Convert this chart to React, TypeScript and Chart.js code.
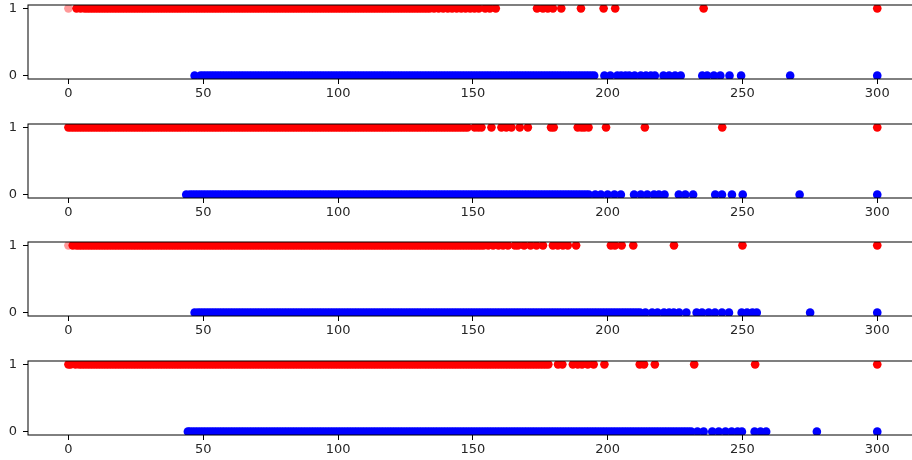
import React, { useEffect, useRef } from "react";
import { Chart, registerables } from "chart.js";

Chart.register(...registerables);

// ---------- data ----------
const xTickValues = [0, 50, 100, 150, 200, 250, 300];
const yTickValues = [0, 1];

// panel 1
const faint1 = [0];
const red1 = [
  3, 4.5,
  6, 7, 8, 9, 10, 11, 12, 13, 14, 15, 16, 17, 18, 19, 20, 21, 22, 23, 24, 25,
  26, 27, 28, 29, 30, 31, 32, 33, 34, 35, 36, 37, 38, 39, 40, 41, 42, 43, 44, 45,
  46, 47, 48, 49, 50, 51, 52, 53, 54, 55, 56, 57, 58, 59, 60, 61, 62, 63, 64, 65,
  66, 67, 68, 69, 70, 71, 72, 73, 74, 75, 76, 77, 78, 79, 80, 81, 82, 83, 84, 85,
  86, 87, 88, 89, 90, 91, 92, 93, 94, 95, 96, 97, 98, 99, 100, 101, 102, 103, 104, 105,
  106, 107, 108, 109, 110, 111, 112, 113, 114, 115, 116, 117, 118, 119, 120, 121, 122, 123, 124, 125,
  126, 127, 128, 129, 130, 131, 132, 133, 134,
  135.6, 137.3, 139, 140.7, 142.3, 144, 145.7, 147.3, 149, 150.6, 152.2, 154.6, 156.3, 158.5,
  173.8, 176, 177.8, 179.7, 182.8, 190.1, 198.5, 202.8, 235.6, 300,
];
const blue1 = [
  46.8,
  49, 50, 51, 52, 53, 54, 55, 56, 57, 58, 59, 60, 61, 62, 63, 64, 65,
  66, 67, 68, 69, 70, 71, 72, 73, 74, 75, 76, 77, 78, 79, 80, 81, 82, 83, 84, 85,
  86, 87, 88, 89, 90, 91, 92, 93, 94, 95, 96, 97, 98, 99, 100, 101, 102, 103, 104, 105,
  106, 107, 108, 109, 110, 111, 112, 113, 114, 115, 116, 117, 118, 119, 120, 121, 122, 123, 124, 125,
  126, 127, 128, 129, 130, 131, 132, 133, 134, 135, 136, 137, 138, 139, 140, 141, 142, 143, 144, 145,
  146, 147, 148, 149, 150, 151, 152, 153, 154, 155, 156, 157, 158, 159, 160, 161, 162, 163, 164, 165,
  166, 167, 168, 169, 170, 171, 172, 173, 174, 175, 176, 177, 178, 179, 180, 181, 182, 183, 184, 185,
  186, 187, 188, 189, 190, 191, 192, 193, 194, 195,
  198.8, 201, 203.6, 205, 206.6, 208, 210, 212.3, 214.2, 216, 217.5, 220.7, 222.8, 225, 227.1,
  235.1, 236.9, 239.4, 241.8, 245.2, 249.5, 267.7, 300,
];

// panel 2
const faint2: number[] = [];
const red2 = [
  0, 1, 2, 3, 4, 5, 6, 7, 8, 9, 10, 11, 12, 13, 14, 15, 16, 17, 18, 19, 20, 21, 22, 23, 24, 25,
  26, 27, 28, 29, 30, 31, 32, 33, 34, 35, 36, 37, 38, 39, 40, 41, 42, 43, 44, 45,
  46, 47, 48, 49, 50, 51, 52, 53, 54, 55, 56, 57, 58, 59, 60, 61, 62, 63, 64, 65,
  66, 67, 68, 69, 70, 71, 72, 73, 74, 75, 76, 77, 78, 79, 80, 81, 82, 83, 84, 85,
  86, 87, 88, 89, 90, 91, 92, 93, 94, 95, 96, 97, 98, 99, 100, 101, 102, 103, 104, 105,
  106, 107, 108, 109, 110, 111, 112, 113, 114, 115, 116, 117, 118, 119, 120, 121, 122, 123, 124, 125,
  126, 127, 128, 129, 130, 131, 132, 133, 134, 135, 136, 137, 138, 139, 140, 141, 142, 143, 144, 145,
  146, 147, 148,
  150.7, 152, 153.2, 156.9, 160.6, 162.4, 164.3, 167.4, 170.4, 179, 180,
  188.9, 190.3, 191.4, 192.9, 199.4, 213.8, 242.5, 300,
];
const blue2 = [
  43.7,
  45, 46, 47, 48, 49, 50, 51, 52, 53, 54, 55, 56, 57, 58, 59, 60, 61, 62, 63, 64, 65,
  66, 67, 68, 69, 70, 71, 72, 73, 74, 75, 76, 77, 78, 79, 80, 81, 82, 83, 84, 85,
  86, 87, 88, 89, 90, 91, 92, 93, 94, 95, 96, 97, 98, 99, 100, 101, 102, 103, 104, 105,
  106, 107, 108, 109, 110, 111, 112, 113, 114, 115, 116, 117, 118, 119, 120, 121, 122, 123, 124, 125,
  126, 127, 128, 129, 130, 131, 132, 133, 134, 135, 136, 137, 138, 139, 140, 141, 142, 143, 144, 145,
  146, 147, 148, 149, 150, 151, 152, 153, 154, 155, 156, 157, 158, 159, 160, 161, 162, 163, 164, 165,
  166, 167, 168, 169, 170, 171, 172, 173, 174, 175, 176, 177, 178, 179, 180, 181, 182, 183, 184, 185,
  186, 187, 188, 189, 190, 191, 192, 193,
  195.4, 197.5, 200, 202.5, 204.9, 209.8, 212.3, 214.7, 217.2, 219, 221.1,
  226.4, 228.8, 231.7, 239.9, 242.4, 246.1, 250.1, 271.2, 300,
];

// panel 3
const faint3 = [0];
const red3 = [
  1.6,
  3, 4, 5, 6, 7, 8, 9, 10, 11, 12, 13, 14, 15, 16, 17, 18, 19, 20, 21, 22, 23, 24, 25,
  26, 27, 28, 29, 30, 31, 32, 33, 34, 35, 36, 37, 38, 39, 40, 41, 42, 43, 44, 45,
  46, 47, 48, 49, 50, 51, 52, 53, 54, 55, 56, 57, 58, 59, 60, 61, 62, 63, 64, 65,
  66, 67, 68, 69, 70, 71, 72, 73, 74, 75, 76, 77, 78, 79, 80, 81, 82, 83, 84, 85,
  86, 87, 88, 89, 90, 91, 92, 93, 94, 95, 96, 97, 98, 99, 100, 101, 102, 103, 104, 105,
  106, 107, 108, 109, 110, 111, 112, 113, 114, 115, 116, 117, 118, 119, 120, 121, 122, 123, 124, 125,
  126, 127, 128, 129, 130, 131, 132, 133, 134, 135, 136, 137, 138, 139, 140, 141, 142, 143, 144, 145,
  146, 147, 148, 149, 150, 151, 152, 153, 154,
  155.7, 157.5, 159.5, 161.2, 163, 165.6, 166.7, 169, 171.4, 173.6, 176,
  179.7, 181.5, 183.4, 185.2, 188.3, 201.2, 202.7, 205.2, 209.5, 224.6, 250, 300,
];
const blue3 = [
  46.8,
  48, 49, 50, 51, 52, 53, 54, 55, 56, 57, 58, 59, 60, 61, 62, 63, 64, 65,
  66, 67, 68, 69, 70, 71, 72, 73, 74, 75, 76, 77, 78, 79, 80, 81, 82, 83, 84, 85,
  86, 87, 88, 89, 90, 91, 92, 93, 94, 95, 96, 97, 98, 99, 100, 101, 102, 103, 104, 105,
  106, 107, 108, 109, 110, 111, 112, 113, 114, 115, 116, 117, 118, 119, 120, 121, 122, 123, 124, 125,
  126, 127, 128, 129, 130, 131, 132, 133, 134, 135, 136, 137, 138, 139, 140, 141, 142, 143, 144, 145,
  146, 147, 148, 149, 150, 151, 152, 153, 154, 155, 156, 157, 158, 159, 160, 161, 162, 163, 164, 165,
  166, 167, 168, 169, 170, 171, 172, 173, 174, 175, 176, 177, 178, 179, 180, 181, 182, 183, 184, 185,
  186, 187, 188, 189, 190, 191, 192, 193, 194, 195, 196, 197, 198, 199, 200, 201, 202, 203, 204, 205,
  206, 207, 208, 209, 210, 211, 212,
  214, 216.5, 218.5, 220.9, 222.8, 224.5, 226.5, 229.2, 233, 235, 237.5, 239.8, 242.4, 245,
  249.7, 251.7, 253.7, 255.3, 275.1, 300,
];

// panel 4
const faint4: number[] = [];
const red4 = [
  0, 0.8, 2.6,
  4, 5, 6, 7, 8, 9, 10, 11, 12, 13, 14, 15, 16, 17, 18, 19, 20, 21, 22, 23, 24, 25,
  26, 27, 28, 29, 30, 31, 32, 33, 34, 35, 36, 37, 38, 39, 40, 41, 42, 43, 44, 45,
  46, 47, 48, 49, 50, 51, 52, 53, 54, 55, 56, 57, 58, 59, 60, 61, 62, 63, 64, 65,
  66, 67, 68, 69, 70, 71, 72, 73, 74, 75, 76, 77, 78, 79, 80, 81, 82, 83, 84, 85,
  86, 87, 88, 89, 90, 91, 92, 93, 94, 95, 96, 97, 98, 99, 100, 101, 102, 103, 104, 105,
  106, 107, 108, 109, 110, 111, 112, 113, 114, 115, 116, 117, 118, 119, 120, 121, 122, 123, 124, 125,
  126, 127, 128, 129, 130, 131, 132, 133, 134, 135, 136, 137, 138, 139, 140, 141, 142, 143, 144, 145,
  146, 147, 148, 149, 150, 151, 152, 153, 154, 155, 156, 157, 158, 159, 160, 161, 162, 163, 164, 165,
  166, 167, 168, 169, 170, 171, 172, 173, 174, 175, 176, 177, 178,
  181.6, 183.2, 187.1, 188.9, 190.5, 192.6, 194.8, 198.8, 211.9, 213.5, 217.5, 232.1, 254.7, 300,
];
const blue4 = [
  44.3,
  45, 46, 47, 48, 49, 50, 51, 52, 53, 54, 55, 56, 57, 58, 59, 60, 61, 62, 63, 64, 65,
  66, 67, 68, 69, 70, 71, 72, 73, 74, 75, 76, 77, 78, 79, 80, 81, 82, 83, 84, 85,
  86, 87, 88, 89, 90, 91, 92, 93, 94, 95, 96, 97, 98, 99, 100, 101, 102, 103, 104, 105,
  106, 107, 108, 109, 110, 111, 112, 113, 114, 115, 116, 117, 118, 119, 120, 121, 122, 123, 124, 125,
  126, 127, 128, 129, 130, 131, 132, 133, 134, 135, 136, 137, 138, 139, 140, 141, 142, 143, 144, 145,
  146, 147, 148, 149, 150, 151, 152, 153, 154, 155, 156, 157, 158, 159, 160, 161, 162, 163, 164, 165,
  166, 167, 168, 169, 170, 171, 172, 173, 174, 175, 176, 177, 178, 179, 180, 181, 182, 183, 184, 185,
  186, 187, 188, 189, 190, 191, 192, 193, 194, 195, 196, 197, 198, 199, 200, 201, 202, 203, 204, 205,
  206, 207, 208, 209, 210, 211, 212, 213, 214, 215, 216, 217, 218, 219, 220, 221, 222, 223, 224, 225,
  226, 227, 228, 229, 230, 231,
  233.3, 235.6, 238.8, 241.2, 243.7, 246, 248.2, 249.8, 254.5, 256.7, 258.8, 277.6, 300,
];

const panels = [
  { faint: faint1, red: red1, blue: blue1 },
  { faint: faint2, red: red2, blue: blue2 },
  { faint: faint3, red: red3, blue: blue3 },
  { faint: faint4, red: red4, blue: blue4 },
];

// ---------- layout ----------
const PLOT_TOPS = [5, 124, 242, 361];
const PAD_TOP = 5;
const PLOT_H = 74;
const CANVAS_H = 118;
const CANVAS_W = 922;
const AXIS_W = 28;

const FONT = { family: "'DejaVu Sans', sans-serif", size: 13 };
const TEXT_COLOR = "#262626";

const spinePlugin = {
  id: "spines",
  afterDatasetsDraw(chart: any) {
    const { ctx, chartArea: a } = chart;
    ctx.save();
    ctx.strokeStyle = "#000";
    ctx.lineWidth = 1;
    ctx.strokeRect(a.left, a.top, a.right - a.left, a.bottom - a.top);
    ctx.restore();
  },
};

function Panel({ index }: { index: number }) {
  const ref = useRef<HTMLCanvasElement | null>(null);
  useEffect(() => {
    const p = panels[index];
    const chart = new Chart(ref.current as HTMLCanvasElement, {
      type: "scatter",
      data: {
        datasets: [
          {
            data: p.red.map((x) => ({ x, y: 1 })),
            backgroundColor: "#ff0000",
            pointRadius: 4.3,
            pointBorderWidth: 0,
            borderWidth: 0,
          },
          {
            data: p.faint.map((x) => ({ x, y: 1 })),
            backgroundColor: "rgba(255,0,0,0.4)",
            pointRadius: 4.3,
            pointBorderWidth: 0,
            borderWidth: 0,
          },
          {
            data: p.blue.map((x) => ({ x, y: 0 })),
            backgroundColor: "#0000ff",
            pointRadius: 4.3,
            pointBorderWidth: 0,
            borderWidth: 0,
          },
        ],
      },
      options: {
        responsive: false,
        animation: false,
        events: [],
        layout: { padding: { top: PAD_TOP, left: 0, right: 0, bottom: 0 } },
        plugins: { legend: { display: false }, tooltip: { enabled: false } },
        scales: {
          x: {
            type: "linear",
            min: -15,
            max: 315,
            afterBuildTicks: (s: any) => {
              s.ticks = xTickValues.map((v) => ({ value: v }));
            },
            afterFit: (s: any) => {
              s.height = CANVAS_H - PAD_TOP - PLOT_H;
              s.paddingLeft = 0;
              s.paddingRight = 0;
            },
            grid: {
              display: true,
              drawOnChartArea: false,
              drawTicks: true,
              tickLength: 5,
              color: "#000",
              lineWidth: 1,
            },
            border: { display: false },
            ticks: {
              font: FONT,
              color: TEXT_COLOR,
              padding: 2,
              maxRotation: 0,
              autoSkip: false,
              callback: (v: any) => String(v),
            },
          },
          y: {
            type: "linear",
            min: -0.05,
            max: 1.05,
            afterBuildTicks: (s: any) => {
              s.ticks = yTickValues.map((v) => ({ value: v }));
            },
            afterFit: (s: any) => {
              s.width = AXIS_W;
              s.paddingTop = 0;
              s.paddingBottom = 0;
            },
            grid: {
              display: true,
              drawOnChartArea: false,
              drawTicks: true,
              tickLength: 5,
              color: "#000",
              lineWidth: 1,
            },
            border: { display: false },
            ticks: {
              font: FONT,
              color: TEXT_COLOR,
              padding: 6,
              callback: (v: any) => String(v),
            },
          },
        },
      },
      plugins: [spinePlugin],
    } as any);
    return () => chart.destroy();
  }, [index]);

  return (
    <canvas
      ref={ref}
      width={CANVAS_W}
      height={CANVAS_H}
      style={{
        position: "absolute",
        left: 0,
        top: PLOT_TOPS[index] - PAD_TOP,
        width: CANVAS_W,
        height: CANVAS_H,
      }}
    />
  );
}

export default function App() {
  return (
    <div
      style={{
        position: "absolute",
        left: 0,
        top: 0,
        width: 912,
        height: 460,
        overflow: "hidden",
        background: "#fff",
      }}
    >
      {panels.map((_, i) => (
        <Panel key={i} index={i} />
      ))}
    </div>
  );
}
